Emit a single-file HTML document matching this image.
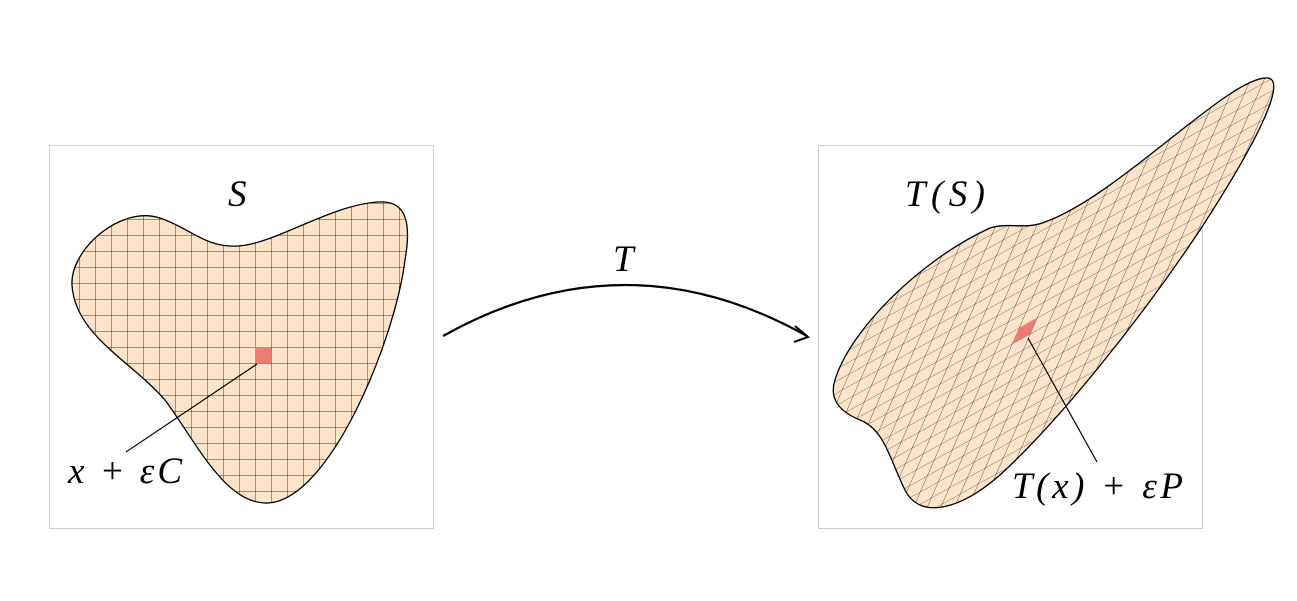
<!DOCTYPE html>
<html><head><meta charset="utf-8"><style>
html,body{margin:0;padding:0;background:#fff;}
svg{display:block;}
text{font-family:"Liberation Serif",serif;font-style:italic;fill:#000;}
</style></head><body>
<svg width="1297" height="601" viewBox="0 0 1297 601">
<defs>
 <pattern id="gridL" patternUnits="userSpaceOnUse" x="255" y="347" width="16" height="16">
  <rect width="16" height="16" fill="#fde3c8"/>
  <path d="M0,0 H16 M0,0 V16" stroke="#3a3a3a" stroke-width="1" fill="none"/>
 </pattern>
 <pattern id="gridR" patternUnits="userSpaceOnUse" width="16" height="16" patternTransform="matrix(1.125,-0.625,-0.4375,1,1012,344)">
  <rect x="-1" y="-1" width="18" height="18" fill="#fde3c8"/>
  <path d="M0,0 H16 M0,0 V16" stroke="#3a3a3a" stroke-width="1" fill="none"/>
 </pattern>
</defs>

<rect x="49.5" y="145.5" width="384" height="383" fill="none" stroke="#cfcfcf" stroke-width="1"/>
<rect x="818.5" y="145.5" width="384" height="383" fill="none" stroke="#cfcfcf" stroke-width="1"/>

<path d="M72,285 C70,250 120,205 160,218 C190,228 205,248 238,246 C275,244 330,205 378,202 C405,200 412,220 405,260 C395,340 330,500 268,503 C225,505 195,440 165,400 C130,360 75,335 72,285 Z" fill="url(#gridL)" stroke="#000" stroke-width="1.3"/>
<rect x="255" y="347" width="16" height="16" fill="#ef7a70"/>
<line x1="257" y1="364" x2="126" y2="452" stroke="#000" stroke-width="1.2"/>
<text x="228" y="206" font-size="37">S</text>
<text x="68" y="483" font-size="37" textLength="114" lengthAdjust="spacing">x + εC</text>

<path d="M443,336 Q625,234 807,336" fill="none" stroke="#000" stroke-width="2.2"/>
<path d="M795,326 L808,337 L794,342" fill="none" stroke="#000" stroke-width="2"/>
<text x="613" y="271" font-size="37">T</text>

<path d="M835,380 C850,330 920,260 990,228 C1010,222 1025,230 1045,222 C1120,195 1230,75 1268,78 C1285,80 1265,130 1200,230 C1140,320 1060,420 1000,475 C960,510 920,520 905,490 C890,460 885,430 860,420 C835,410 830,395 835,380 Z" fill="url(#gridR)" stroke="#000" stroke-width="1.3"/>
<polygon points="1012,344 1019,328 1037,318 1030,334" fill="#ef7a70"/>
<line x1="1028" y1="338" x2="1097" y2="462" stroke="#000" stroke-width="1.2"/>
<text x="905" y="206" font-size="37" textLength="80" lengthAdjust="spacing">T(S)</text>
<text x="1012" y="498" font-size="37" textLength="171" lengthAdjust="spacing">T(x) + εP</text>
</svg>
</body></html>
